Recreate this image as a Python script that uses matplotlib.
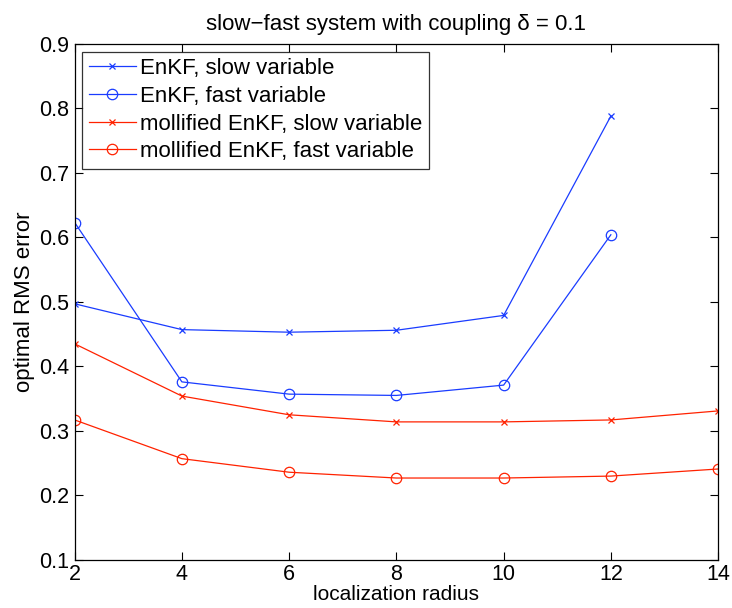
import matplotlib
matplotlib.use("Agg")
import matplotlib.pyplot as plt

plt.rcParams['font.family'] = ['Liberation Sans', 'DejaVu Sans']

radius = [2, 4, 6, 8, 10, 12, 14]
enkf_slow = [0.497, 0.457, 0.453, 0.456, 0.479, 0.788]
enkf_fast = [0.623, 0.376, 0.357, 0.355, 0.371, 0.604]
moll_slow = [0.435, 0.354, 0.325, 0.314, 0.314, 0.317, 0.331]
moll_fast = [0.317, 0.257, 0.236, 0.227, 0.227, 0.230, 0.241]

blue = '#1a3cff'
red = '#ff2200'

fig = plt.figure(figsize=(7.32, 6.08), dpi=100)
ax = fig.add_axes([0.102, 0.079, 0.879, 0.849])

ax.plot(radius[:len(enkf_slow)], enkf_slow, color=blue, lw=0.9, marker='x', ms=5, mew=0.9,
        label='EnKF, slow variable')
ax.plot(radius[:len(enkf_fast)], enkf_fast, color=blue, lw=0.9, marker='o', ms=7.5, mfc='none', mew=0.9,
        label='EnKF, fast variable')
ax.plot(radius, moll_slow, color=red, lw=0.9, marker='x', ms=5, mew=0.9,
        label='mollified EnKF, slow variable')
ax.plot(radius, moll_fast, color=red, lw=0.9, marker='o', ms=7.5, mfc='none', mew=0.9,
        label='mollified EnKF, fast variable')

ax.set_xlim(2, 14)
ax.set_ylim(0.1, 0.9)
ax.set_xticks(radius)
ax.set_yticks([0.1, 0.2, 0.3, 0.4, 0.5, 0.6, 0.7, 0.8, 0.9])
ax.set_yticklabels(['0.1', '0.2', '0.3', '0.4', '0.5', '0.6', '0.7', '0.8', '0.9'])
ax.tick_params(direction='in', top=True, right=True, length=6, width=0.8, labelsize=15.5)
ax.tick_params(axis='x', pad=3)
ax.tick_params(axis='y', pad=4)
for s in ax.spines.values():
    s.set_linewidth(0.9)

ax.set_xlabel('localization radius', fontsize=15, labelpad=0)
ax.set_ylabel('optimal RMS error', fontsize=16, labelpad=3)
ax.set_title('slow\u2212fast system with coupling \u03b4 = 0.1', fontsize=16, pad=10)

leg = ax.legend(loc='upper left', fontsize=16, frameon=True, fancybox=False,
                edgecolor='black', handlelength=2.1, borderaxespad=0.35,
                labelspacing=0.3, handletextpad=0.2, borderpad=0.3)
leg.get_frame().set_linewidth(0.9)

fig.savefig('out.png', dpi=100)
